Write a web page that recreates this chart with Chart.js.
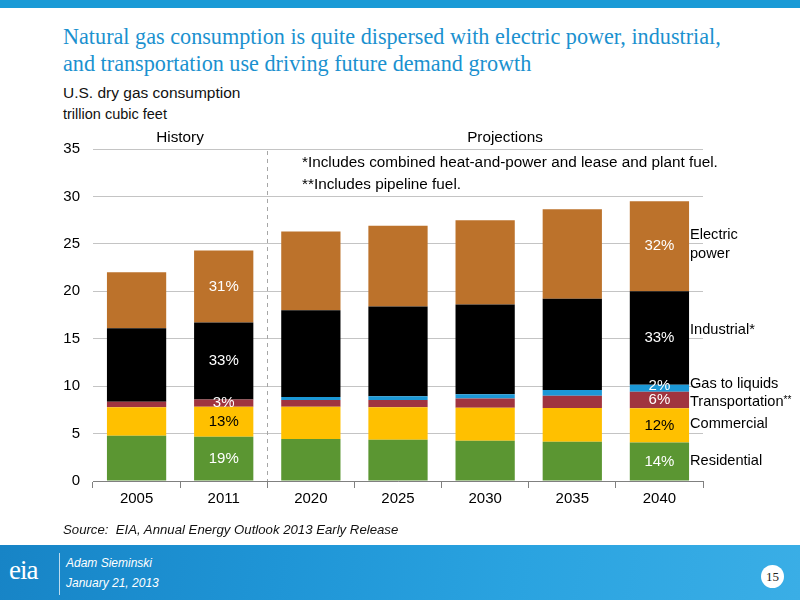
<!DOCTYPE html>
<html>
<head>
<meta charset="utf-8">
<script src="https://cdn.jsdelivr.net/npm/chart.js@4/dist/chart.umd.min.js"></script>
<style>
  html,body{margin:0;padding:0;background:#fff;}
  #wrap{position:relative;width:800px;height:600px;overflow:hidden;font-family:"Liberation Sans",Arial,sans-serif;}
  #c{position:absolute;left:0;top:0;}
  .t{position:absolute;white-space:nowrap;}
  #topband{position:absolute;left:0;top:0;width:800px;height:8px;background:#1a9ad6;}
  #title{left:63px;top:23px;font-family:"Liberation Serif","Times New Roman",serif;font-size:22.2px;line-height:27px;color:#1b91cf;}
  .sub{left:63px;font-size:15.5px;color:#111;}
  .lab{font-size:14.6px;color:#000;}
  .note{font-size:15.3px;color:#000;}
  #footer{position:absolute;left:0;top:545px;width:800px;height:55px;
    background:linear-gradient(100deg,#1784c6 0%,#1f95d6 35%,#2aa3e0 65%,#3aaee6 100%);}
  #pg{position:absolute;left:761px;top:565px;width:23px;height:23px;border-radius:50%;background:#fff;
    font-family:"Liberation Serif",serif;font-size:13px;line-height:23px;text-align:center;color:#222;}
</style>
</head>
<body>
<div id="wrap">
  <div id="topband"></div>
  <div id="title" class="t">Natural gas consumption is quite dispersed with electric power, industrial,<br>and transportation use driving future demand growth</div>
  <div class="t sub" style="top:84px;">U.S. dry gas consumption</div>
  <div class="t sub" style="top:106px;font-size:14.5px;">trillion cubic feet</div>
  <canvas id="c" width="800" height="600"></canvas>
  <div class="t note" style="left:180px;top:128px;transform:translateX(-50%);">History</div>
  <div class="t note" style="left:505px;top:128px;transform:translateX(-50%);">Projections</div>
  <div class="t note" style="left:302px;top:153px;">*Includes combined heat-and-power and lease and plant fuel.</div>
  <div class="t note" style="left:302px;top:175px;">**Includes pipeline fuel.</div>
  <div class="t lab" style="left:690px;top:226px;">Electric</div>
  <div class="t lab" style="left:690px;top:245px;">power</div>
  <div class="t lab" style="left:690px;top:321px;">Industrial*</div>
  <div class="t lab" style="left:690px;top:375px;">Gas to liquids</div>
  <div class="t lab" style="left:690px;top:393px;">Transportation<span style="font-size:10px;vertical-align:3px;">**</span></div>
  <div class="t lab" style="left:690px;top:415px;">Commercial</div>
  <div class="t lab" style="left:690px;top:452px;">Residential</div>
  <div class="t" style="left:63px;top:522px;font-size:13.2px;font-style:italic;color:#111;">Source:&nbsp; EIA, Annual Energy Outlook 2013 Early Release</div>
  <div id="footer"></div>
  <div class="t" style="left:9px;top:555px;font-family:'Liberation Serif',serif;font-size:27px;color:#fff;letter-spacing:-1px;">eia</div>
  <div style="position:absolute;left:59px;top:553px;width:1px;height:42px;background:rgba(255,255,255,0.7);"></div>
  <div class="t" style="left:66px;top:556px;font-size:12px;font-style:italic;color:#fff;">Adam Sieminski</div>
  <div class="t" style="left:66px;top:576px;font-size:12px;font-style:italic;color:#fff;">January 21, 2013</div>
  <div id="pg">15</div>
</div>
<script>
const categories = ["2005","2011","2020","2025","2030","2035","2040"];
const residential    = [4.78, 4.67, 4.43, 4.36, 4.25, 4.15, 4.07];
const commercial     = [2.99, 3.17, 3.41, 3.41, 3.48, 3.55, 3.59];
const transportation = [0.59, 0.74, 0.70, 0.77, 0.98, 1.30, 1.76];
const gasToLiquids   = [0.00, 0.00, 0.32, 0.39, 0.43, 0.60, 0.74];
const industrial     = [7.74, 8.12, 9.14, 9.47, 9.46, 9.60, 9.84];
const electricPower  = [5.90, 7.60, 8.30, 8.50, 8.90, 9.45, 9.50];
const yTicks = [0,5,10,15,20,25,30,35];
// share labels shown on the 2011 and 2040 bars (per series, bottom to top)
const shares2011 = ["19%","13%","3%",null,"33%","31%"];
const shares2040 = ["14%","12%","6%","2%","33%","32%"];

const seriesNames  = ["Residential","Commercial","Transportation","Gas to liquids","Industrial","Electric power"];
const seriesData   = [residential, commercial, transportation, gasToLiquids, industrial, electricPower];
const seriesColors = ["#5b9632","#ffc000","#a0343f","#1c98d6","#000000","#bc722b"];
const labelColors  = ["#fff","#000","#fff","#fff","#fff","#fff"];

const shareLabels = {
  id:"shareLabels",
  afterDatasetsDraw(chart){
    const ctx = chart.ctx;
    const x = chart.scales.x, y = chart.scales.y;
    ctx.save();
    ctx.font = '15px "Liberation Sans", Arial, sans-serif';
    ctx.textAlign = "center"; ctx.textBaseline = "middle";
    const draw = (ci, arr) => {
      let base = 0;
      for (let s = 0; s < seriesData.length; s++) {
        const v = seriesData[s][ci];
        const txt = arr[s];
        if (txt) {
          const off = (s===3) ? -2 : 0;
          ctx.fillStyle = labelColors[s];
          ctx.fillText(txt, x.getPixelForValue(ci), y.getPixelForValue(base + v/2) + off);
        }
        base += v;
      }
    };
    draw(1, shares2011);
    draw(6, shares2040);
    ctx.restore();
  }
};

const divider = {
  id:"divider",
  afterDatasetsDraw(chart){
    const ctx = chart.ctx, x = chart.scales.x, a = chart.chartArea;
    const px = Math.round((x.getPixelForValue(1) + x.getPixelForValue(2)) / 2) + 0.5;
    ctx.save();
    ctx.strokeStyle = "#a6a6a6"; ctx.lineWidth = 1; ctx.setLineDash([4,4]);
    ctx.beginPath(); ctx.moveTo(px, a.top + 2); ctx.lineTo(px, a.bottom); ctx.stroke();
    ctx.restore();
  }
};

new Chart(document.getElementById("c"), {
  type: "bar",
  data: {
    labels: categories,
    datasets: seriesNames.map((n,i)=>({
      label: n, data: seriesData[i], backgroundColor: seriesColors[i],
      borderWidth: 0, barPercentage: 0.68, categoryPercentage: 1
    }))
  },
  options: {
    responsive: false, animation: false, devicePixelRatio: 1,
    layout: { padding: { left: 0, top: 149, right: 97, bottom: 89 } },
    plugins: { legend: { display: false }, tooltip: { enabled: false } },
    scales: {
      x: {
        stacked: true,
        afterFit(s){ s.height = 30; },
        grid: { display: true, drawOnChartArea: false, drawTicks: true, tickLength: 7, color: "#808080", offset: true },
        border: { display: true, color: "#808080" },
        ticks: { color: "#000", font: { size: 15, family: '"Liberation Sans", Arial, sans-serif' }, padding: 2 }
      },
      y: {
        stacked: true, min: 0, max: 35,
        afterFit(s){ s.width = 93; },
        afterBuildTicks(s){ s.ticks = yTicks.map(v=>({value:v})); },
        grid: { color: "#c4c4c4", drawTicks: false },
        border: { display: false },
        ticks: { color: "#000", font: { size: 15, family: '"Liberation Sans", Arial, sans-serif' }, padding: 13 }
      }
    }
  },
  plugins: [divider, shareLabels]
});
</script>
</body>
</html>
